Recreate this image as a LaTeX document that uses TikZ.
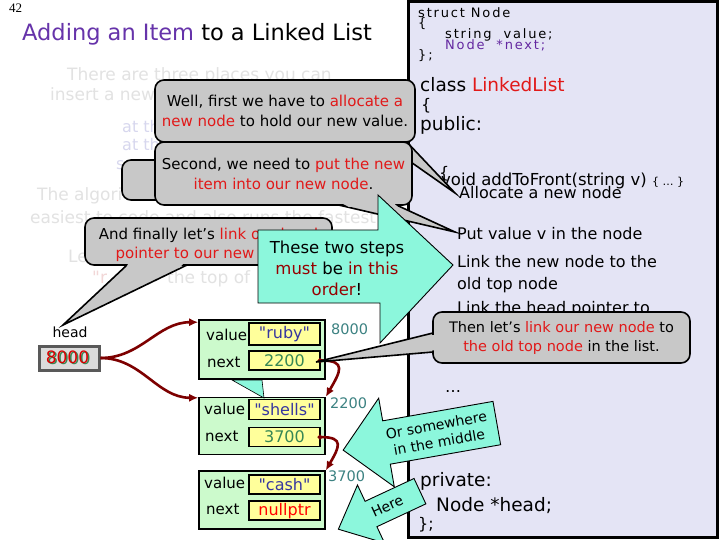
\documentclass[tikz,border=0pt]{standalone}
\usepackage{fontspec}
\setmainfont{DejaVu Sans}
\newfontfamily\codefont[LetterSpace=14]{DejaVu Sans}
\newfontfamily\strfont[Ligatures=TeXOff]{DejaVu Sans}
\newfontfamily\numfont{Liberation Serif}
\usepackage{xcolor}
\usepackage{tikz}
\usetikzlibrary{arrows.meta, positioning}

\definecolor{titlepurple}{RGB}{102,51,170}
\definecolor{panelblue}{RGB}{228,228,245}
\definecolor{calloutgray}{RGB}{200,200,200}
\definecolor{hotred}{RGB}{225,25,25}
\definecolor{darkred}{RGB}{150,0,0}
\definecolor{aqua}{RGB}{140,247,220}
\definecolor{nodegreen}{RGB}{204,250,204}
\definecolor{fieldyellow}{RGB}{255,255,155}
\definecolor{strblue}{RGB}{55,55,160}
\definecolor{numgreen}{RGB}{55,135,85}
\definecolor{addrteal}{RGB}{60,130,130}
\definecolor{ptrred}{RGB}{125,0,0}
\definecolor{faded}{RGB}{226,226,226}
\definecolor{fadedblue}{RGB}{215,215,238}
\definecolor{fadedpink}{RGB}{242,215,215}
\definecolor{codepurple}{RGB}{100,40,160}

\newcommand{\redtxt}[1]{\textcolor{hotred}{#1}}
\newcommand{\maroontxt}[1]{\textcolor{darkred}{#1}}
\newcommand{\txtsize}[2]{\fontsize{#1}{#2}\selectfont}

\begin{document}
\begin{tikzpicture}[
    x=1pt, y=-1pt,
    callout/.style={rectangle, draw=black, line width=1.6pt, fill=calloutgray,
        rounded corners=9pt, align=center, inner sep=0pt, font=\txtsize{15}{20}},
    tail/.style={draw=black, line width=1.6pt, fill=calloutgray, line join=miter},
    aquashape/.style={draw=black, line width=0.9pt, fill=aqua, line join=miter},
    listnode/.style={rectangle, draw=black, line width=1.6pt, fill=nodegreen, inner sep=0pt},
    field/.style={rectangle, draw=black, line width=1.6pt, fill=fieldyellow, inner sep=0pt,
        minimum width=71pt, font=\txtsize{16}{16}},
    fieldname/.style={anchor=west, inner sep=0pt, font=\txtsize{15}{15}},
    addr/.style={anchor=west, inner sep=0pt, text=addrteal, font=\txtsize{14.5}{15}},
    codeline/.style={anchor=base west, inner sep=0pt, font=\txtsize{16}{16}},
    structline/.style={anchor=base west, inner sep=0pt, font=\codefont\txtsize{13}{13}},
    ghost/.style={anchor=base west, inner sep=0pt, text=faded, font=\txtsize{17}{17}},
    link/.style={draw=ptrred, line width=2.6pt, -{Latex[length=9pt, width=8pt]}},
]
\useasboundingbox (0,0) rectangle (720,540);
\fill[white] (0,0) rectangle (720,540);

% --- page number and title ---
\node[anchor=base west, inner sep=0pt, font=\numfont\txtsize{13}{13}] (pagenum) at (9,13) {42};
\node[anchor=base west, inner sep=0pt, font=\txtsize{22.5}{22.5}] (title) at (22,41)
    {\textcolor{titlepurple}{Adding an Item} to a Linked List};

% --- class panel on the right ---
\node[draw=black, line width=3pt, fill=panelblue, minimum width=309pt, minimum height=535pt,
    inner sep=0pt] (panel) at (562.5,269.5) {};
\node[structline] (structname) at (418,18) {struct Node};
\node[structline] (structopen) at (418,28) {\{};
\node[structline] (structval) at (445,39) {string\ \ value;};
\node[structline, text=codepurple] (structnext) at (445,50) {Node\ \ *next;};
\node[structline] (structclose) at (418,60) {\};};
\node[codeline, font=\txtsize{18.5}{18.5}] (classname) at (420,92) {class \redtxt{LinkedList}};
\node[codeline] (classopen) at (421,111) {\{};
\node[codeline, font=\txtsize{18.5}{18.5}] (public) at (420,131) {public:};
\node[codeline] (funcopen) at (439,179) {\{};
\node[codeline, font=\txtsize{16.5}{16.5}] (func) at (441,186) {void addToFront(string v) {\txtsize{11}{11}\{ … \}}};
\node[codeline] (stepalloc) at (459,199) {Allocate a new node};
\node[codeline] (stepput) at (457,240) {Put value v in the node};
\node[codeline] (steplink) at (457,267) {Link the new node to the};
\node[codeline] (steplinkb) at (457,289) {old top node};
\node[codeline] (stephead) at (457,313) {Link the head pointer to};
\node[codeline] (dots) at (445,392) {…};
\node[codeline, font=\txtsize{18.5}{18.5}] (private) at (420,486) {private:};
\node[codeline, font=\txtsize{18.5}{18.5}] (headmember) at (436,511) {Node *head;};
\node[codeline] (classclose) at (418,529) {\};};

% --- faded slide text underneath ---
\node[ghost] (ghostA) at (67,81) {There are three places you can};
\node[ghost] (ghostB) at (50,101) {insert a new};
\node[ghost, text=fadedblue, font=\txtsize{16}{16}] (ghostC) at (122,133) {at th};
\node[ghost, text=fadedblue, font=\txtsize{16}{16}] (ghostD) at (122,151) {at th};
\node[ghost, text=fadedblue, font=\txtsize{16}{16}] (ghostE) at (116,170) {s};
\node[ghost] (ghostF) at (37,201) {The algori};
\node[ghost] (ghostG) at (30,223) {easiest to code and also runs the fastest};
\node[ghost] (ghostH) at (68,262) {Le};
\node[ghost, text=fadedpink] (ghostI) at (92,283) {\strfont"r};
\node[ghost] (ghostJ) at (167,283) {the top of};

% --- grey callouts ---
\node[callout, minimum width=48pt, minimum height=40pt] (hidden) at (146,180) {};

\filldraw[tail] (378,139) -- (455,193) -- (404,139);
\node[callout, minimum width=260pt, minimum height=62pt] (allocnote) at (285,111)
    {Well, first we have to \redtxt{allocate a}\\ \redtxt{new node} to hold our new value.};

\filldraw[tail] (330,203) -- (455,232) -- (392,203);
\node[callout, minimum width=257pt, minimum height=63pt] (putnote) at (283.5,173.5)
    {Second, we need to \redtxt{put the new}\\ \redtxt{item into our new node}.};
\fill[calloutgray] (335,200) -- (390,200) -- (398,207) -- (349,207) -- cycle;

\filldraw[tail] (127,265) -- (63,325) -- (187,265);
\node[callout, minimum width=247pt, minimum height=47pt] (headnote) at (208.5,241.5) {};
\node[align=center, inner sep=0pt, font=\txtsize{15}{19}] (headnotetext) at (208.5,244.5)
    {And finally let's \redtxt{link our head}\\ \redtxt{pointer to our new node}.};
\fill[calloutgray] (129,262) -- (185,262) -- (179,268) -- (126,268) -- cycle;

% --- the linked list ---
\node[font=\txtsize{14}{14}, inner sep=0pt] (headlbl) at (70,332) {head};
\node[draw=black!65, line width=3pt, fill=black!14, minimum width=60pt, minimum height=24pt,
    inner sep=0pt, font=\txtsize{17}{17}, text=numgreen] (headptr) at (69,358) {8000};
\node[inner sep=0pt, font=\txtsize{17}{17}, text=red!85!black] (headptrtop)
    at ([shift={(-1.5,-1)}]headptr.center) {8000};

\node[listnode, minimum width=126pt, minimum height=59pt] (ruby) at (262,349.5) {};
\node[field, minimum height=22pt, anchor=north east, text=strblue] (rubyval)
    at ([shift={(-5,3)}]ruby.north east) {\strfont"ruby"};
\node[field, minimum height=19pt, anchor=south east, text=numgreen] (rubynext)
    at ([shift={(-5,-9)}]ruby.south east) {2200};
\node[fieldname] (rubyvallbl) at (206,335) {value};
\node[fieldname] (rubynextlbl) at (207,362) {next};
\node[addr] (rubyaddr) at (331,329) {8000};

\node[listnode, minimum width=126pt, minimum height=57pt, below=17pt of ruby] (shells) {};
\node[field, minimum height=20pt, anchor=north east, text=strblue] (shellsval)
    at ([shift={(-5,2)}]shells.north east) {\strfont"shells"};
\node[field, minimum height=19pt, anchor=south east, text=numgreen] (shellsnext)
    at ([shift={(-5,-8)}]shells.south east) {3700};
\node[fieldname] (shellsvallbl) at (204,409) {value};
\node[fieldname] (shellsnextlbl) at (205,436) {next};
\node[addr] (shellsaddr) at (330,403) {2200};

\node[listnode, minimum width=126pt, minimum height=58pt, below=15pt of shells] (cash) {};
\node[field, minimum height=19pt, anchor=north east, text=strblue] (cashval)
    at ([shift={(-5,4)}]cash.north east) {\strfont"cash"};
\node[field, minimum height=19pt, anchor=south east, text=red] (cashnext)
    at ([shift={(-5,-9)}]cash.south east) {nullptr};
\node[fieldname] (cashvallbl) at (204,483) {value};
\node[fieldname] (cashnextlbl) at (206,509) {next};
\node[addr] (cashaddr) at (328,476) {3700};

\draw[link] (headptr.east) to[out=0, in=180] ([shift={(0,3)}]ruby.north west);
\draw[link] (headptr.east) to[out=0, in=180] ([shift={(0,1)}]shells.north west);
\draw[link, {Circle[length=4.5pt]}-{Latex[length=9pt, width=8pt]}]
    ([shift={(-3,0)}]rubynext.east) to[out=0, in=60, looseness=2] (shells.north east);
\draw[link, {Circle[length=4.5pt]}-{Latex[length=9pt, width=8pt]}]
    ([shift={(-3,0)}]shellsnext.east) to[out=0, in=60, looseness=2] (cash.north east);

\filldraw[aquashape, line width=0.6pt] (232,380) -- (262,380) -- (264,398) -- cycle;

\filldraw[tail] (433,333) -- (316,362) -- (433,352);
\node[callout, minimum width=257pt, minimum height=51pt, font=\txtsize{14.5}{19}] (linknote)
    at (561.5,337.5)
    {Then let's \redtxt{link our new node} to\\ \redtxt{the old top node} in the list.};
\fill[calloutgray] (436,335) -- (436,350) -- (429,351) -- (429,335) -- cycle;

% --- aqua arrows ---
\filldraw[aquashape] (258,230) -- (378,230) -- (378,195) -- (453,265) -- (380,343)
    -- (380,303) -- (258,303) -- cycle;
\node[align=center, inner sep=0pt, font=\txtsize{16.5}{21}] (ordernote) at (337,268)
    {These two steps\\ \maroontxt{must} be \maroontxt{in this}\\ \maroontxt{order}!};

\begin{scope}[shift={(386.5,442.5)}, rotate=10]
  \filldraw[aquashape] (0,-22) -- (112,-22) -- (112,22) -- (0,22) -- (0,45) -- (-44,0)
      -- (0,-45) -- cycle;
  \node[align=center, inner sep=0pt, transform shape, font=\txtsize{14}{17}] (middlenote)
      at (52,0) {Or somewhere\\ in the middle};
\end{scope}

\begin{scope}[shift={(371,514)}, rotate=25]
  \filldraw[aquashape] (0,-14) -- (54,-14) -- (54,14) -- (0,14) -- (0,32) -- (-36,0)
      -- (0,-32) -- cycle;
  \node[inner sep=0pt, transform shape, font=\txtsize{14}{14}] (herenote) at (18,0) {Here};
\end{scope}
\end{tikzpicture}
\end{document}
